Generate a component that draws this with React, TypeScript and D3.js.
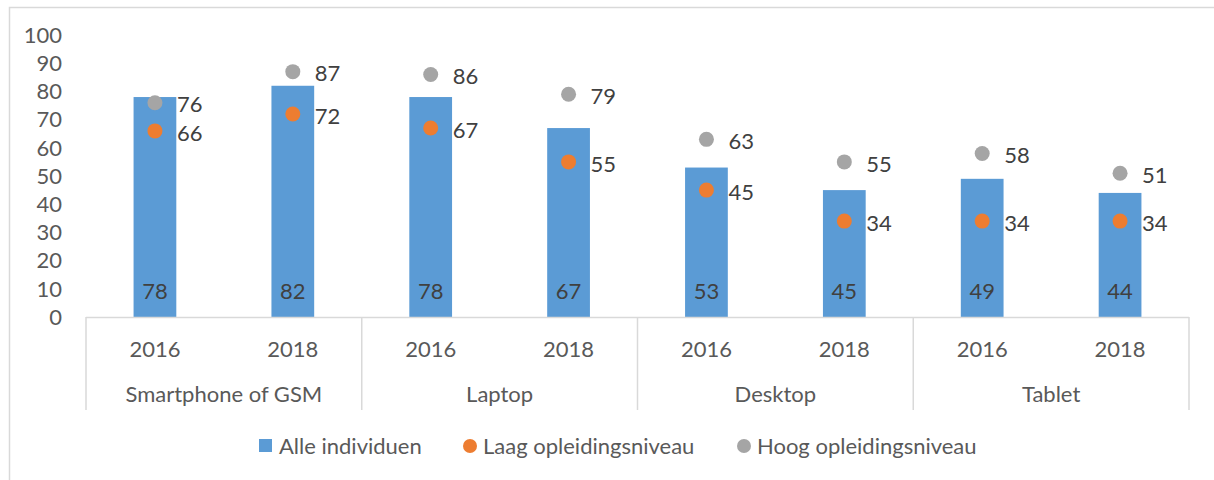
import React from "react";
import * as d3 from "d3";

const devices = ["Smartphone of GSM", "Laptop", "Desktop", "Tablet"];
const years = ["2016", "2018"];
const alleIndividuen = [78, 82, 78, 67, 53, 45, 49, 44];
const laagOpleiding = [66, 72, 67, 55, 45, 34, 34, 34];
const hoogOpleiding = [76, 87, 86, 79, 63, 55, 58, 51];
const yTicks = [0, 10, 20, 30, 40, 50, 60, 70, 80, 90, 100];
const seriesNames = ["Alle individuen", "Laag opleidingsniveau", "Hoog opleidingsniveau"];

const W = 1214;
const H = 480;
const FONT = "Lato, Carlito, 'Liberation Sans', sans-serif";
const FS = 22;
const TXT = "#595959";
const LBL = "#404040";
const BLUE = "#5b9bd5";
const ORANGE = "#ed7d31";
const GRAY = "#a5a5a5";
const AXIS = "#d9d9d9";

export default function App() {
  const left = 86, right = 1189, top = 35, bottom = 317;
  const slots = devices.flatMap((d) => years.map((y) => `${d}|${y}`));
  const x = d3.scaleBand().domain(slots).range([left, right]).paddingInner(0.69).paddingOuter(0.345);
  const xc = d3.scaleBand().domain(devices).range([left, right]);
  const y = d3.scaleLinear().domain([0, 100]).range([bottom, top]);
  const bw = x.bandwidth();

  return (
    <svg width={W} height={H} style={{ position: "absolute", left: 0, top: 0, fontFamily: FONT }}>
      <rect x={9.5} y={7.5} width={1220} height={480} fill="#fff" stroke="#d9d9d9" strokeWidth={1.5} />
      {yTicks.map((t) => (
        <text key={t} x={62} y={y(t)} dy="0.35em" textAnchor="end" fontSize={FS} fill={TXT}>
          {t}
        </text>
      ))}
      {slots.map((s, i) => (
        <rect key={s} x={x(s)} y={y(alleIndividuen[i])} width={bw} height={y(0) - y(alleIndividuen[i])} fill={BLUE} />
      ))}
      <line x1={left} x2={right} y1={bottom + 0.5} y2={bottom + 0.5} stroke={AXIS} strokeWidth={1.5} />
      {d3.range(devices.length + 1).map((i) => {
        const xx = i < devices.length ? xc(devices[i])! : right;
        return <line key={i} x1={xx} x2={xx} y1={bottom} y2={410} stroke={AXIS} strokeWidth={1.5} />;
      })}
      {slots.map((s, i) => (
        <text key={"y" + s} x={x(s)! + bw / 2} y={349} dy="0.35em" textAnchor="middle" fontSize={FS} fill={TXT}>
          {years[i % 2]}
        </text>
      ))}
      {devices.map((d) => (
        <text key={d} x={xc(d)! + xc.bandwidth() / 2} y={394} dy="0.35em" textAnchor="middle" fontSize={FS} fill={TXT}>
          {d}
        </text>
      ))}
      {slots.map((s, i) => (
        <text key={"b" + s} x={x(s)! + bw / 2} y={291} dy="0.35em" textAnchor="middle" fontSize={FS} fill={LBL}>
          {alleIndividuen[i]}
        </text>
      ))}
      {slots.map((s, i) => (
        <g key={"p" + s}>
          <circle cx={x(s)! + bw / 2} cy={y(hoogOpleiding[i])} r={7.5} fill={GRAY} />
          <text x={x(s)! + bw / 2 + 22} y={y(hoogOpleiding[i]) + 2} dy="0.35em" fontSize={FS} fill={LBL}>
            {hoogOpleiding[i]}
          </text>
          <circle cx={x(s)! + bw / 2} cy={y(laagOpleiding[i])} r={7.5} fill={ORANGE} />
          <text x={x(s)! + bw / 2 + 22} y={y(laagOpleiding[i]) + 2} dy="0.35em" fontSize={FS} fill={LBL}>
            {laagOpleiding[i]}
          </text>
        </g>
      ))}
      <g>
        <rect x={259} y={439} width={13} height={13} fill={BLUE} />
        <text x={279} y={446} dy="0.35em" fontSize={FS} fill={TXT}>{seriesNames[0]}</text>
        <circle cx={470} cy={446} r={7} fill={ORANGE} />
        <text x={483} y={446} dy="0.35em" fontSize={FS} fill={TXT}>{seriesNames[1]}</text>
        <circle cx={744} cy={446} r={7} fill={GRAY} />
        <text x={757} y={446} dy="0.35em" fontSize={FS} fill={TXT}>{seriesNames[2]}</text>
      </g>
    </svg>
  );
}
